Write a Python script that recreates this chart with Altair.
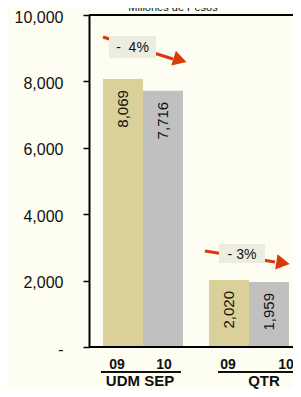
import altair as alt
import pandas as pd

# ---- data ----
groups = ["UDM SEP", "UDM SEP", "QTR", "QTR"]
years = ["09", "10", "09", "10"]
values = [8069, 7716, 2020, 1959]
value_labels = ["8,069", "7,716", "2,020", "1,959"]
group_order = ["UDM SEP", "QTR"]
year_order = ["09", "10"]
y_ticks = [0, 2000, 4000, 6000, 8000, 10000]
change_labels = ["-\u00a0 4%", "- 3%"]
title_text = "Millones de Pesos"

df = pd.DataFrame({"group": groups, "year": years, "value": values, "label": value_labels})

W, H = 204, 332
FONT = "Arial, Liberation Sans, sans-serif"
TAN, GRAY, RED, BOXC, BG = "#D9D09A", "#C0C0C0", "#D83A0A", "#ECEDE0", "#FEFDF2"

xsc = alt.Scale(domain=group_order, range=[14, 200], paddingInner=26 / 106, paddingOuter=0)
ysc = alt.Scale(domain=[0, 10000], nice=False)
xoff = alt.XOffset("year:N", sort=year_order, scale=alt.Scale(domain=year_order, paddingInner=0, paddingOuter=0))
X = alt.X("group:N", sort=group_order, scale=xsc, axis=None)

base = alt.Chart(df)

bars = base.mark_bar().encode(
    x=X,
    xOffset=xoff,
    y=alt.Y("value:Q", scale=ysc, title=None,
            axis=alt.Axis(values=y_ticks, grid=False,
                          labelExpr="datum.value == 0 ? '-' : format(datum.value, ',')",
                          labelFont=FONT, labelFontSize=16, labelColor="#111",
                          labelPadding=20, labelOffset=2,
                          tickSize=6, tickWidth=1.5, tickColor="#000",
                          domainColor="#000", domainWidth=2)),
    color=alt.Color("year:N", scale=alt.Scale(domain=year_order, range=[TAN, GRAY]), legend=None),
)

bar_text = base.mark_text(angle=270, align="right", baseline="middle", yOffset=11,
                          font=FONT, fontSize=15, color="#111").encode(
    x=X, xOffset=xoff, y=alt.Y("value:Q", scale=ysc), text="label:N")

top_rule = alt.Chart(pd.DataFrame({"v": [10000]})).mark_rule(color="#000", strokeWidth=2).encode(
    y=alt.Y("v:Q", scale=ysc), x=alt.value(0), x2=alt.value(W))
bottom_rule = alt.Chart(pd.DataFrame({"v": [0]})).mark_rule(color="#000", strokeWidth=2).encode(
    y=alt.Y("v:Q", scale=ysc), x=alt.value(0), x2=alt.value(W))

# year labels under each bar
year_dx = {("UDM SEP", "09"): -6, ("UDM SEP", "10"): 1, ("QTR", "09"): -1, ("QTR", "10"): 17}
year_layers = []
for (g, yv), dx in year_dx.items():
    year_layers.append(
        base.transform_filter((alt.datum.group == g) & (alt.datum.year == yv))
        .mark_text(dx=dx, baseline="alphabetic", font=FONT, fontSize=14, fontWeight="bold", color="#111")
        .encode(x=X, xOffset=xoff, y=alt.value(354), text="year:N")
    )

# underline below year labels + group labels
grp_df = pd.DataFrame({"group": group_order})
underline_dx = {"UDM SEP": -2, "QTR": 9}
under_layers = []
group_dx = {"UDM SEP": -3, "QTR": 15}
group_layers = []
for g in group_order:
    under_layers.append(
        alt.Chart(grp_df).transform_filter(alt.datum.group == g)
        .mark_bar(color="#111", xOffset=underline_dx[g])
        .encode(x=X, y=alt.value(356), y2=alt.value(358))
    )
    group_layers.append(
        alt.Chart(grp_df).transform_filter(alt.datum.group == g)
        .mark_text(dx=group_dx[g], baseline="alphabetic", font=FONT, fontSize=15, fontWeight="bold", color="#111")
        .encode(x=X, y=alt.value(371), text="group:N")
    )

# change arrows with labels
ann = []
arrows = [
    # (x1, y1, x2, y2, head_x, head_y, angle, box x1, y1, x2, y2, label)
    (14, 22, 84, 44, 91, 45, 17, 20, 21, 67, 43, change_labels[0]),
    (116, 236, 186, 247, 194, 248, 9, 130, 229, 176, 248, change_labels[1]),
]
one = pd.DataFrame({"a": [0]})
for x1, y1, x2, y2, hx, hy, ang, bx1, by1, bx2, by2, lab in arrows:
    ann.append(alt.Chart(one).mark_rule(color=RED, strokeWidth=3).encode(
        x=alt.value(x1), y=alt.value(y1), x2=alt.value(x2), y2=alt.value(y2)))
    ann.append(alt.Chart(one).mark_point(shape="triangle-right", filled=True, color=RED,
                                         size=240, angle=ang, opacity=1).encode(
        x=alt.value(hx), y=alt.value(hy)))
    ann.append(alt.Chart(one).mark_rect(color=BOXC).encode(
        x=alt.value(bx1), x2=alt.value(bx2), y=alt.value(by1), y2=alt.value(by2)))
    ann.append(alt.Chart(pd.DataFrame({"t": [lab]})).mark_text(
        font=FONT, fontSize=14, color="#111", baseline="middle").encode(
        x=alt.value((bx1 + bx2) / 2), y=alt.value((by1 + by2) / 2 + 1), text="t:N"))

title = alt.Chart(pd.DataFrame({"t": [title_text]})).mark_text(
    font=FONT, fontSize=11, color="#111", baseline="alphabetic").encode(
    x=alt.value(84), y=alt.value(-4), text="t:N")

chart = alt.layer(
    bars, bar_text, top_rule, bottom_rule, *under_layers, *year_layers, *group_layers, *ann, title
).properties(
    width=W, height=H, background=BG,
    autosize=alt.AutoSizeParams(type="none"),
    padding={"left": 81, "top": 7, "right": 0, "bottom": 42},
).configure_view(stroke=None)

chart.save("out.html", embed_options={"renderer": "svg", "actions": False})
